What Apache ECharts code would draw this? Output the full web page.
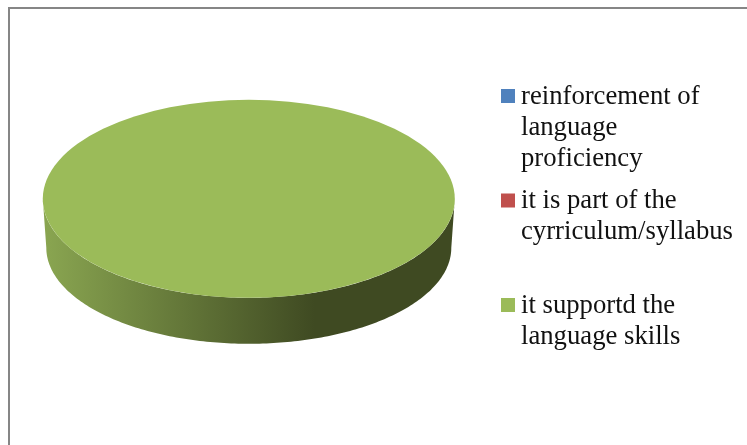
<!DOCTYPE html>
<html>
<head>
<meta charset="utf-8">
<style>html,body{margin:0;padding:0;background:#fff}#c{width:747px;height:445px}</style>
<script src="https://cdn.jsdelivr.net/npm/echarts@6/dist/echarts.min.js"></script>
</head>
<body>
<div id="c"></div>
<script>
const categories = ['reinforcement of\nlanguage\nproficiency', 'it is part of the\ncyrriculum/syllabus', 'it supportd the\nlanguage skills'];
const values = [0, 0, 100];
const colors = ['#4F81BD', '#C0504D', '#9BBB59'];
const wallStops = [
  [[0, '#8AA651'], [0.66, '#3F4A22'], [1, '#3F4A22']],
  [[0, '#8AA651'], [0.66, '#3F4A22'], [1, '#3F4A22']],
  [[0, '#8AA651'], [0.66, '#3F4A22'], [1, '#3F4A22']]
];

const pie = { cx: 248.8, cy: 198.8, rx: 206, ry: 99, depth: 49, bottomRx: 202.5, bottomRy: 96 };
const total = values.reduce((a, b) => a + b, 0);
const START = -Math.PI / 2;

function sliceAngles(i) {
  let before = 0;
  for (let k = 0; k < i; k++) before += values[k];
  return [START + before / total * 2 * Math.PI, START + (before + values[i]) / total * 2 * Math.PI];
}

function makeRender(i) {
  return function (params, api) {
    const v = api.value(0);
    if (!v) return null;
    const [s, e] = sliceAngles(i);
    const lo = Math.max(s, 0), hi = Math.min(e, Math.PI);
    const children = [];
    if (hi > lo) {
      const top = [], bottom = [];
      const n = 180;
      for (let k = 0; k <= n; k++) {
        const a = lo + (hi - lo) * k / n;
        top.push([pie.cx + pie.rx * Math.cos(a), pie.cy + pie.ry * Math.sin(a)]);
        bottom.unshift([pie.cx + pie.bottomRx * Math.cos(a), pie.cy + pie.depth + pie.bottomRy * Math.sin(a)]);
      }
      children.push({
        type: 'polygon',
        shape: { points: top.concat(bottom) },
        style: {
          fill: new echarts.graphic.LinearGradient(pie.cx - pie.rx, 0, pie.cx + pie.rx, 0,
            wallStops[i].map(st => ({ offset: st[0], color: st[1] })), true)
        }
      });
    }
    children.push({
      type: 'group',
      x: pie.cx,
      y: pie.cy,
      scaleY: pie.ry / pie.rx,
      children: [{
        type: 'sector',
        shape: { cx: 0, cy: 0, r: pie.rx, r0: 0, startAngle: s, endAngle: e },
        style: { fill: colors[i] }
      }]
    });
    return { type: 'group', children };
  };
}

const chart = echarts.init(document.getElementById('c'), null, { renderer: 'canvas' });
chart.setOption({
  animation: false,
  backgroundColor: '#ffffff',
  graphic: [{
    type: 'rect',
    silent: true,
    shape: { x: 9, y: 8, width: 900, height: 600 },
    style: { fill: 'none', stroke: '#868686', lineWidth: 2 }
  }],
  legend: {
    orient: 'vertical',
    left: 501,
    top: 81,
    padding: 0,
    itemGap: 11.5,
    itemWidth: 15,
    itemHeight: 93,
    selectedMode: false,
    icon: 'path://M0 0H15M0 8H14V22H0ZM0 93H15',
    data: categories,
    formatter: function (name) {
      const lines = name.split('\n');
      while (lines.length < 3) lines.push(' ');
      return lines.join('\n');
    },
    textStyle: {
      fontFamily: '"Liberation Serif", serif',
      fontSize: 26.7,
      lineHeight: 31,
      color: '#111111'
    }
  },
  series: categories.map((name, i) => ({
    type: 'custom',
    name: name,
    coordinateSystem: 'none',
    silent: true,
    itemStyle: { color: colors[i] },
    renderItem: makeRender(i),
    data: [[values[i]]]
  }))
});
</script>
</body>
</html>
